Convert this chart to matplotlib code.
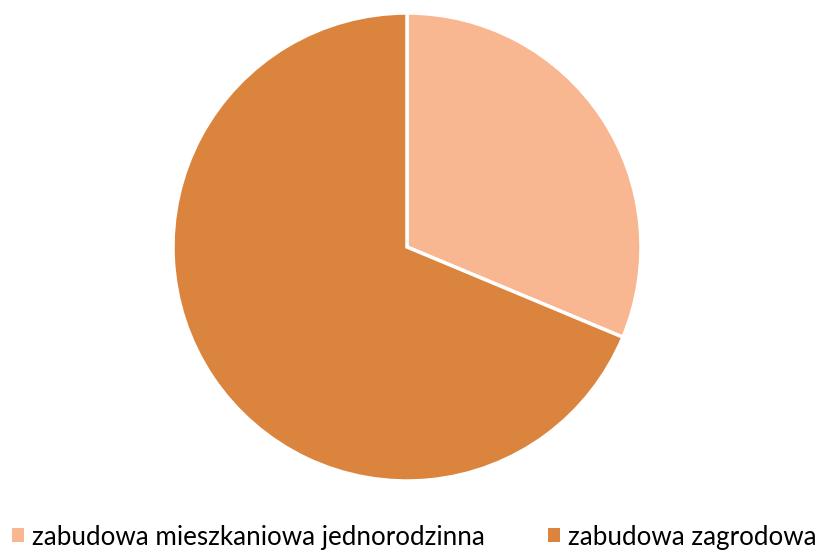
import matplotlib.pyplot as plt

# data
labels = ['zabudowa mieszkaniowa jednorodzinna', 'zabudowa zagrodowa']
values = [31.3, 68.7]
colors = ['#F8B790', '#DB843D']

W, H = 821, 552
fig = plt.figure(figsize=(W / 100, H / 100), dpi=100)

# pie centre (407, 247) px, radius 234 px
cx, cy, r = 407, 247, 234
ax = fig.add_axes([(cx - r) / W, (H - cy - r) / H, 2 * r / W, 2 * r / H])
wedges, _ = ax.pie(values, colors=colors, startangle=90, counterclock=False,
                   radius=1, wedgeprops=dict(edgecolor='white', linewidth=2.5,
                                             clip_on=False))
ax.set_xlim(-1, 1)
ax.set_ylim(-1, 1)
ax.set_aspect('equal')
ax.axis('off')

# legend
fs = 18.7
em = fs * 100 / 72
leg = fig.legend(wedges, labels, loc='center left',
                 bbox_to_anchor=(12 / W, 1 - 537 / H),
                 ncol=2, frameon=False, borderpad=0, borderaxespad=0,
                 handlelength=12 / em, handleheight=12 / em,
                 handletextpad=8 / em, columnspacing=63 / em,
                 prop=dict(family='Lato', size=fs))
for h in leg.legend_handles:
    h.set_edgecolor('none')

fig.savefig('out.png', dpi=100)
